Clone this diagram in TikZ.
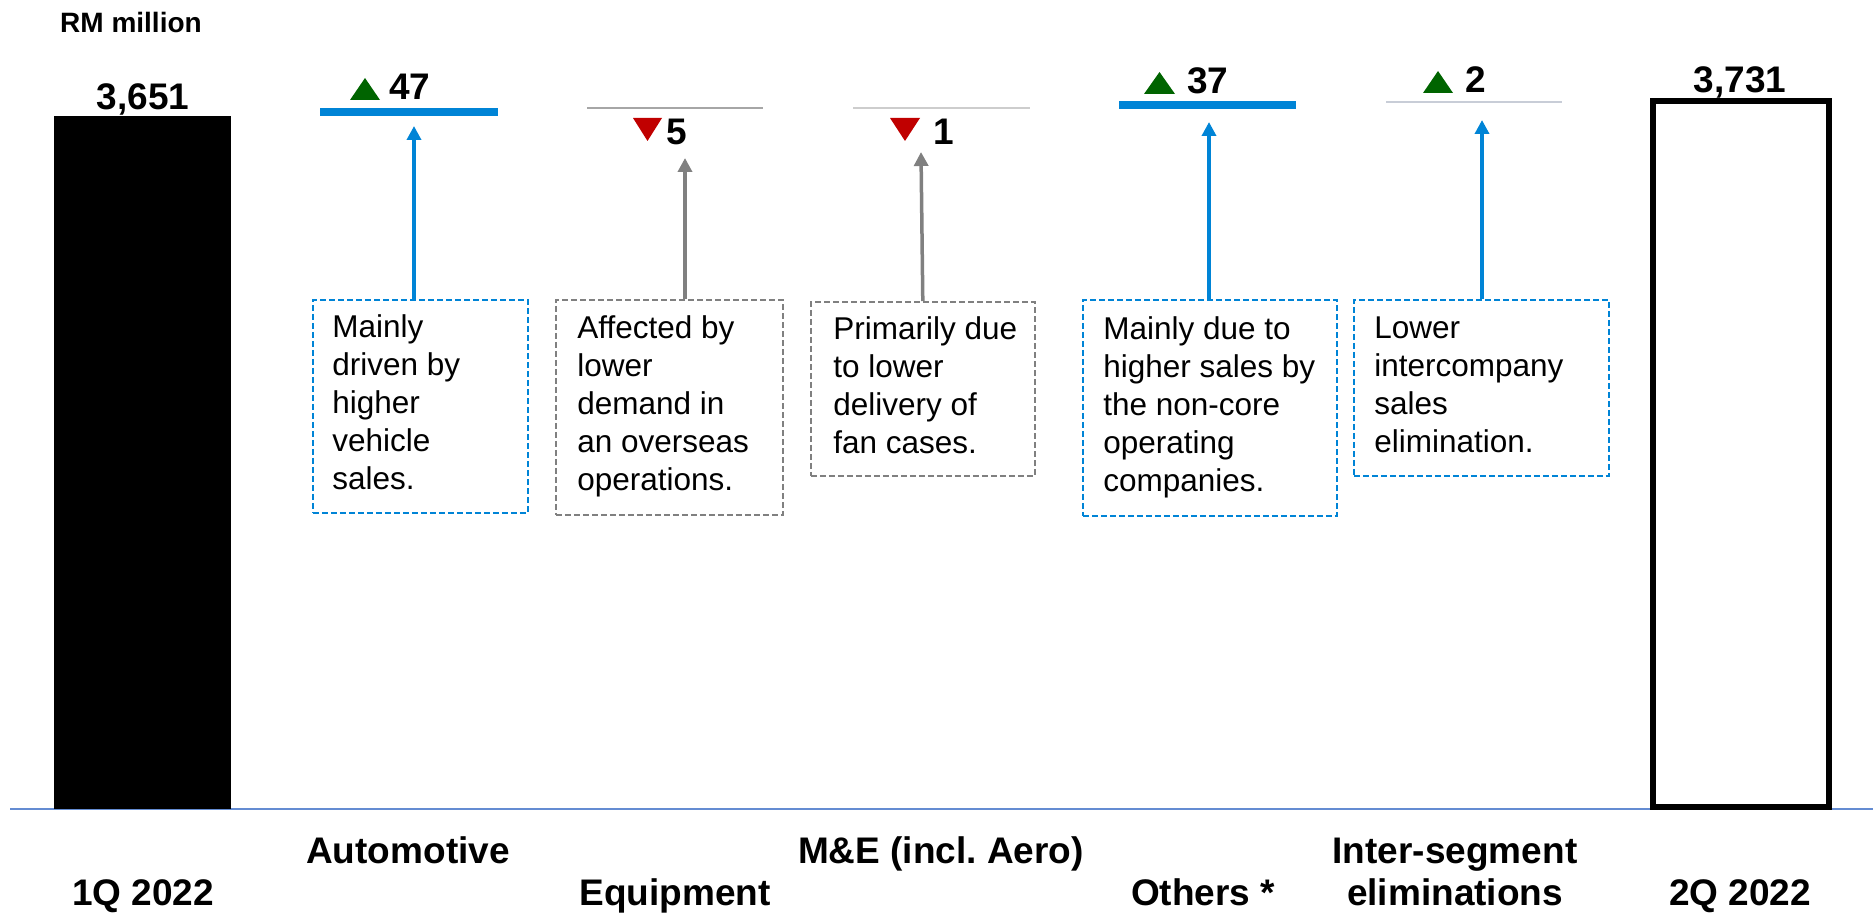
\documentclass[tikz,border=0pt]{standalone}
\usepackage{fontspec}
\setmainfont{Liberation Sans}
\usetikzlibrary{arrows.meta}
\frenchspacing

\definecolor{segblue}{RGB}{0,132,214}
\definecolor{upgreen}{RGB}{0,100,0}
\definecolor{downred}{RGB}{192,0,0}
\definecolor{neutralgray}{RGB}{128,128,128}
\definecolor{flatgray}{RGB}{166,166,166}
\definecolor{palegray}{RGB}{205,205,205}
\definecolor{paleslate}{RGB}{200,205,215}
\definecolor{axisblue}{RGB}{100,140,210}

\begin{document}
\begin{tikzpicture}[x=0.5pt,y=-0.5pt,
  value/.style={font=\fontsize{18.5}{22}\selectfont\bfseries, inner sep=0pt},
  catlabel/.style={font=\fontsize{18.5}{22}\selectfont\bfseries, inner sep=0pt, anchor=base},
  unitlabel/.style={font=\fontsize{14}{17}\selectfont\bfseries, inner sep=0pt},
  noteframe/.style={anchor=north west, inner sep=0pt,
    dash pattern=on 3pt off 1.5pt, line width=0.8pt},
  noteup/.style={noteframe, draw=segblue},
  notedown/.style={noteframe, draw=neutralgray},
  notetext/.style={anchor=west, align=left, inner sep=0pt,
    font=\fontsize{15.75}{19}\selectfont},
  callout/.style={line width=1.75pt, -{Triangle[width=7pt,length=7pt]}},
  upmark/.style={fill=upgreen},
  downmark/.style={fill=downred}]
\useasboundingbox (0,0) rectangle (1873,914);

% unit caption
\node[unitlabel] (unit) at (131,22) {RM million};

% axis line
\draw[axisblue, line width=1pt] (10,809) -- (1873,809);

% opening and closing totals
\fill[black] (54,116) rectangle (231,809);
\node[value, anchor=base] (v1q) at (143,110) {3,651};
\draw[black, line width=3pt] (1653,101) rectangle (1829,807);
\node[value, anchor=base] (v2q) at (1740,93) {3,731};

% segment movement bars
\draw[segblue, line width=4pt] (320,112.5) -- (498,112.5);
\draw[flatgray, line width=0.75pt] (587,108) -- (763,108);
\draw[palegray, line width=0.75pt] (853,108) -- (1030,108);
\draw[segblue, line width=4pt] (1119,105) -- (1296,105);
\draw[paleslate, line width=0.75pt] (1386,102) -- (1562,102);

% movement values with direction markers
\fill[upmark] (350,100) -- (380,100) -- (365,78) -- cycle;
\node[value, anchor=base west] (vA) at (389,100) {47};
\fill[downmark] (633,118) -- (662,118) -- (647.5,141) -- cycle;
\node[value, anchor=base west] (vE) at (666,145) {5};
\fill[downmark] (890,118) -- (920,118) -- (905,141) -- cycle;
\node[value, anchor=base west] (vM) at (933,145) {1};
\fill[upmark] (1144,94) -- (1175,94) -- (1159.5,72) -- cycle;
\node[value, anchor=base west] (vO) at (1187,94) {37};
\fill[upmark] (1423,93) -- (1453,93) -- (1438,71) -- cycle;
\node[value, anchor=base west] (vI) at (1465,93) {2};

% explanatory notes: dashed frames with their text
\node[noteup, minimum width=107.5pt, minimum height=106.5pt] (nA) at (312,299) {};
\node[notetext] (nAt) at ([xshift=10pt]nA.west)
  {\strut Mainly\\driven by\\higher\\vehicle\\sales.\strut};
\node[notedown, minimum width=113.5pt, minimum height=107.5pt] (nE) at (555,299) {};
\node[notetext] (nEt) at ([xshift=11pt]nE.west)
  {\strut Affected by\\lower\\demand in\\an overseas\\operations.\strut};
\node[notedown, minimum width=112pt, minimum height=87pt] (nM) at (810,301) {};
\node[notetext] (nMt) at ([xshift=11.5pt]nM.west)
  {\strut Primarily due\\to lower\\delivery of\\fan cases.\strut};
\node[noteup, minimum width=127pt, minimum height=108pt] (nO) at (1082,299) {};
\node[notetext] (nOt) at ([xshift=10.5pt]nO.west)
  {\strut Mainly due to\\higher sales by\\the non-core\\operating\\companies.\strut};
\node[noteup, minimum width=127.5pt, minimum height=88pt] (nI) at (1353,299) {};
\node[notetext] (nIt) at ([xshift=10.5pt]nI.west)
  {\strut Lower\\intercompany\\sales\\elimination.\strut};

% callout arrows
\coordinate (tA) at (414,126);
\coordinate (tE) at (685,158);
\coordinate (tM) at (921,152);
\coordinate (tO) at (1209,122);
\coordinate (tI) at (1482,120);
\draw[callout, segblue] (nA.north -| tA) -- (tA);
\draw[callout, neutralgray] (nE.north -| tE) -- (tE);
\draw[callout, neutralgray] (nM.north) -- (tM);
\draw[callout, segblue] (nO.north -| tO) -- (tO);
\draw[callout, segblue] (nI.north -| tI) -- (tI);

% category labels
\node[catlabel] (c1q) at (143,905) {1Q 2022};
\node[catlabel] (cA) at (408,863) {Automotive};
\node[catlabel] (cE) at (675,905) {Equipment};
\node[catlabel] (cM) at (941,863) {M\&E (incl. Aero)};
\node[catlabel] (cO) at (1203,905) {Others *};
\node[catlabel] (cI1) at (1455,863) {Inter-segment};
\node[catlabel] (cI2) at (1455,905) {eliminations};
\node[catlabel] (c2q) at (1740,905) {2Q 2022};
\end{tikzpicture}
\end{document}
